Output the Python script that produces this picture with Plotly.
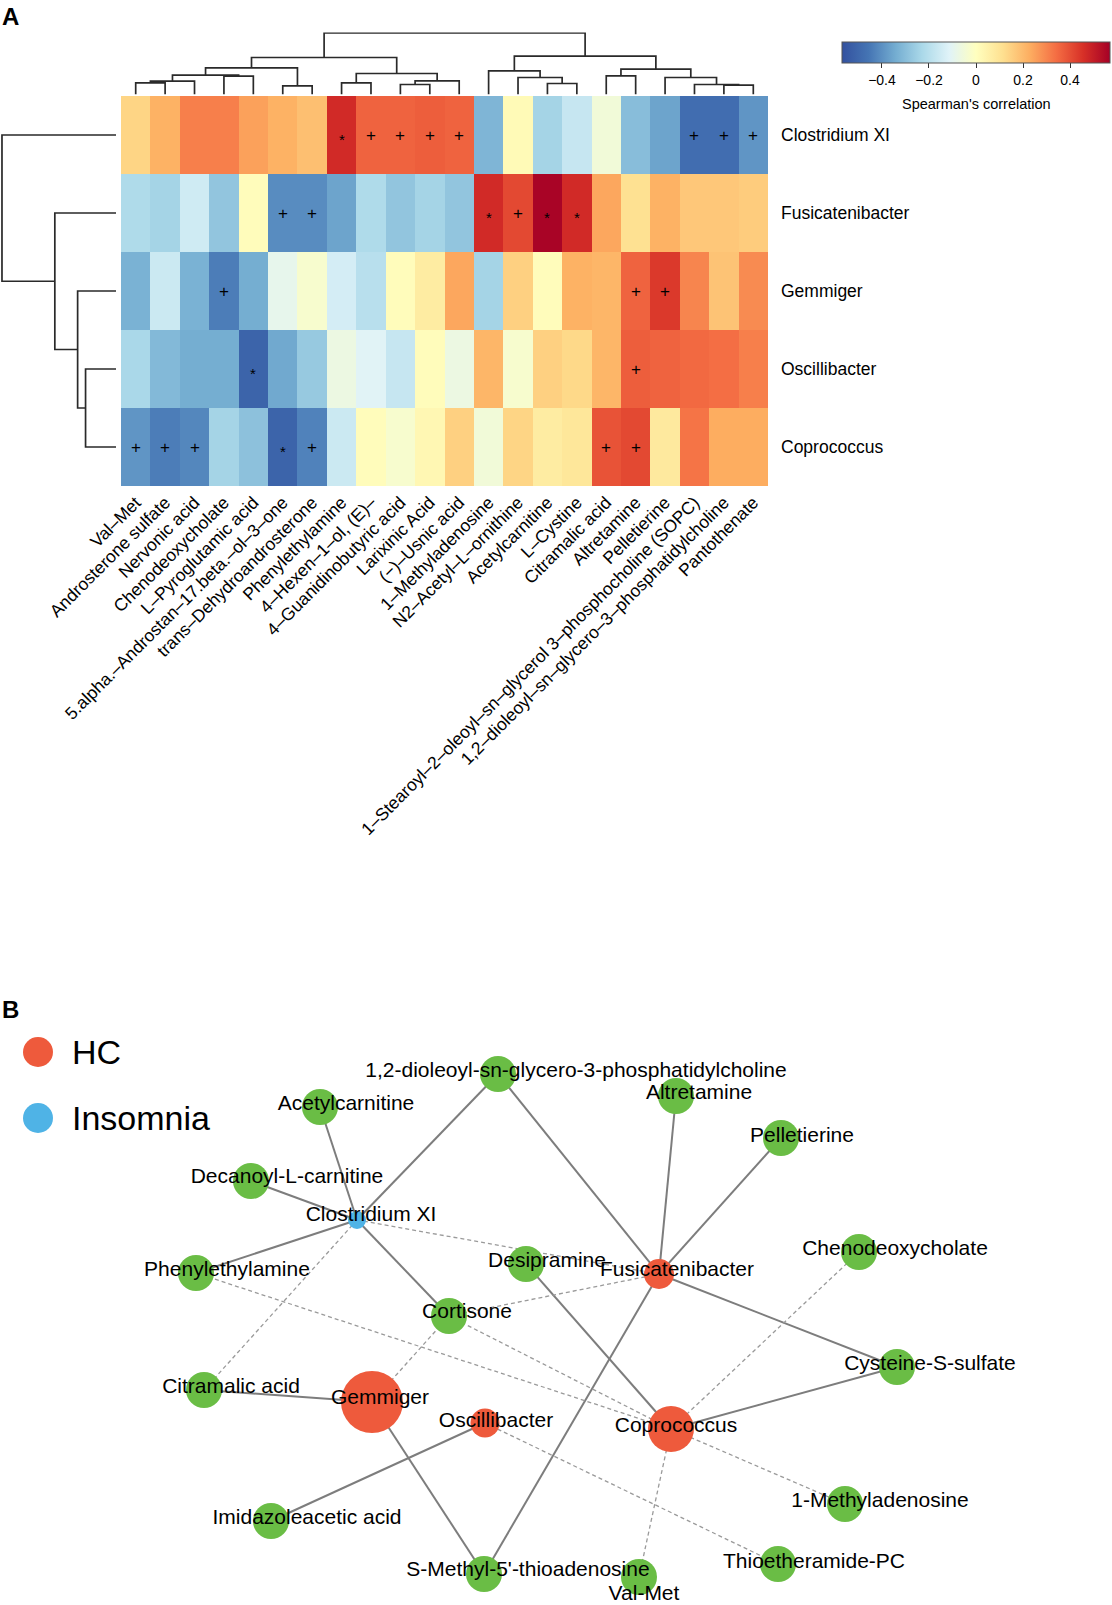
import plotly.graph_objects as go

W, H = 1112, 1605
FONT = "Liberation Sans, Arial, sans-serif"

# ---------------- Panel A data ----------------
metabolites = [
    "Val–Met", "Androsterone sulfate", "Nervonic acid", "Chenodeoxycholate",
    "L–Pyroglutamic acid", "5.alpha.–Androstan–17.beta.–ol–3–one",
    "trans–Dehydroandrosterone", "Phenylethylamine", "4–Hexen–1–ol, (E)–",
    "4–Guanidinobutyric acid", "Larixinic Acid", "(−)–Usnic acid",
    "1–Methyladenosine", "N2–Acetyl–L–ornithine", "Acetylcarnitine", "L–Cystine",
    "Citramalic acid", "Altretamine", "Pelletierine",
    "1–Stearoyl–2–oleoyl–sn–glycerol 3–phosphocholine (SOPC)",
    "1,2–dioleoyl–sn–glycero–3–phosphatidylcholine", "Pantothenate",
]
taxa = ["Clostridium XI", "Fusicatenibacter", "Gemmiger", "Oscillibacter", "Coprococcus"]

rho_clostridium = [0.14, 0.22, 0.31, 0.31, 0.25, 0.22, 0.19, 0.47, 0.36, 0.36, 0.37,
                   0.36, -0.32, 0.02, -0.24, -0.17, -0.05, -0.30, -0.36, -0.48, -0.48, -0.39]
rho_fusicatenibacter = [-0.22, -0.24, -0.15, -0.28, 0.01, -0.41, -0.41, -0.36, -0.22, -0.28, -0.24,
                        -0.28, 0.47, 0.41, 0.56, 0.47, 0.24, 0.11, 0.22, 0.17, 0.17, 0.16]
rho_gemmiger = [-0.33, -0.16, -0.33, -0.44, -0.34, -0.09, -0.03, -0.14, -0.20, 0.01, 0.07,
                0.24, -0.24, 0.15, 0.01, 0.22, 0.21, 0.36, 0.44, 0.30, 0.18, 0.29]
rho_oscillibacter = [-0.23, -0.31, -0.34, -0.34, -0.51, -0.35, -0.27, -0.07, -0.11, -0.17, 0.01,
                     -0.07, 0.21, -0.03, 0.15, 0.13, 0.21, 0.37, 0.36, 0.35, 0.34, 0.31]
rho_coprococcus = [-0.39, -0.44, -0.42, -0.24, -0.29, -0.51, -0.43, -0.16, 0.01, -0.03, 0.03,
                   0.15, -0.05, 0.14, 0.07, 0.09, 0.39, 0.41, 0.08, 0.33, 0.23, 0.23]

sig_clostridium = ["", "", "", "", "", "", "", "*", "+", "+", "+", "+", "", "", "", "", "", "", "", "+", "+", "+"]
sig_fusicatenibacter = ["", "", "", "", "", "+", "+", "", "", "", "", "", "*", "+", "*", "*", "", "", "", "", "", ""]
sig_gemmiger = ["", "", "", "+", "", "", "", "", "", "", "", "", "", "", "", "", "", "+", "+", "", "", ""]
sig_oscillibacter = ["", "", "", "", "*", "", "", "", "", "", "", "", "", "", "", "", "", "+", "", "", "", ""]
sig_coprococcus = ["+", "+", "+", "", "", "*", "+", "", "", "", "", "", "", "", "", "", "+", "+", "", "", "", ""]

# dendrograms: (left, right, height); leaves are display indices
col_tree = (
    ((((((0, 1, 11.7), 2, 13.3), (3, 4, 18.3), 19.3), (5, 6, 8.7), 26.7),
      ((7, 8, 11.7), ((9, 10, 10.0), 11, 13.7), 21.0), 37.0),
     ((12, (13, (14, 15, 11.0), 17.0), 23.7),
      ((16, 17, 18.7), (18, (19, (20, 21, 9.3), 10.0), 17.0), 25.3), 38.3),
     61.7)
)
row_tree = (0, (1, (2, (3, 4, 30.7), 38.7), 61.7), 115.0)

cbar_ticks = [-0.4, -0.2, 0, 0.2, 0.4]
cbar_title = "Spearman's correlation"
zlim = 0.57

# ---------------- Panel B data ----------------
node_names = [
    "Acetylcarnitine", "1,2-dioleoyl-sn-glycero-3-phosphatidylcholine", "Altretamine",
    "Pelletierine", "Decanoyl-L-carnitine", "Clostridium XI", "Chenodeoxycholate",
    "Phenylethylamine", "Desipramine", "Fusicatenibacter", "Cortisone",
    "Cysteine-S-sulfate", "Citramalic acid", "Gemmiger", "Oscillibacter", "Coprococcus",
    "1-Methyladenosine", "Imidazoleacetic acid", "Thioetheramide-PC",
    "S-Methyl-5'-thioadenosine", "Val-Met",
]
node_group = {
    "Clostridium XI": "Insomnia", "Fusicatenibacter": "HC", "Gemmiger": "HC",
    "Oscillibacter": "HC", "Coprococcus": "HC",
}
edges_positive = [
    ("Clostridium XI", "Acetylcarnitine"), ("Clostridium XI", "Decanoyl-L-carnitine"),
    ("Clostridium XI", "Phenylethylamine"),
    ("Clostridium XI", "1,2-dioleoyl-sn-glycero-3-phosphatidylcholine"),
    ("Clostridium XI", "Cortisone"),
    ("Fusicatenibacter", "1,2-dioleoyl-sn-glycero-3-phosphatidylcholine"),
    ("Fusicatenibacter", "Altretamine"), ("Fusicatenibacter", "Pelletierine"),
    ("Fusicatenibacter", "Cysteine-S-sulfate"), ("Fusicatenibacter", "S-Methyl-5'-thioadenosine"),
    ("Coprococcus", "Desipramine"), ("Coprococcus", "Cysteine-S-sulfate"),
    ("Gemmiger", "Citramalic acid"), ("Gemmiger", "S-Methyl-5'-thioadenosine"),
    ("Oscillibacter", "Imidazoleacetic acid"),
]
edges_negative = [
    ("Clostridium XI", "Fusicatenibacter"), ("Clostridium XI", "Citramalic acid"),
    ("Fusicatenibacter", "Cortisone"), ("Gemmiger", "Cortisone"), ("Coprococcus", "Cortisone"),
    ("Coprococcus", "Phenylethylamine"), ("Coprococcus", "Chenodeoxycholate"),
    ("Coprococcus", "1-Methyladenosine"), ("Coprococcus", "Val-Met"),
    ("Oscillibacter", "Thioetheramide-PC"),
]
legend_groups = ["HC", "Insomnia"]

# ---------------- layout / style (positions in network-layout units) ----------------
net_pos = {
    "Acetylcarnitine": (320, 1107), "1,2-dioleoyl-sn-glycero-3-phosphatidylcholine": (498, 1074),
    "Altretamine": (676, 1096), "Pelletierine": (781, 1138), "Decanoyl-L-carnitine": (251, 1181),
    "Clostridium XI": (357, 1220), "Chenodeoxycholate": (859, 1252), "Phenylethylamine": (196, 1273),
    "Desipramine": (526, 1264), "Fusicatenibacter": (659, 1274), "Cortisone": (449, 1316),
    "Cysteine-S-sulfate": (897, 1367), "Citramalic acid": (204, 1390), "Gemmiger": (372, 1402),
    "Oscillibacter": (485, 1423), "Coprococcus": (671, 1429), "1-Methyladenosine": (845, 1504),
    "Imidazoleacetic acid": (271, 1521), "Thioetheramide-PC": (778, 1564),
    "S-Methyl-5'-thioadenosine": (484, 1574), "Val-Met": (639, 1577),
}
label_off = {
    "Acetylcarnitine": (26, -2), "1,2-dioleoyl-sn-glycero-3-phosphatidylcholine": (78, -2),
    "Altretamine": (23, -2), "Pelletierine": (21, -1), "Decanoyl-L-carnitine": (36, -3),
    "Clostridium XI": (14, -4), "Chenodeoxycholate": (36, -2), "Phenylethylamine": (31, -2),
    "Desipramine": (21, -2), "Fusicatenibacter": (18, -3), "Cortisone": (18, -3),
    "Cysteine-S-sulfate": (33, -2), "Citramalic acid": (27, -2), "Gemmiger": (8, -3),
    "Oscillibacter": (11, -1), "Coprococcus": (5, -2), "1-Methyladenosine": (35, -2),
    "Imidazoleacetic acid": (36, -2), "Thioetheramide-PC": (36, -1),
    "S-Methyl-5'-thioadenosine": (44, -3), "Val-Met": (5, 18),
}
node_size = {"Clostridium XI": 18, "Fusicatenibacter": 30, "Gemmiger": 62,
             "Oscillibacter": 29, "Coprococcus": 46}
default_size = 36
group_color = {"HC": "#ee5a3c", "Insomnia": "#4fb3e6", "metabolite": "#6abd45"}
legend_pos = {"HC": (38, 1052), "Insomnia": (38, 1118)}

colorscale = [
    [0.0, "#33519f"], [0.1, "#4575b4"], [0.2, "#74add1"], [0.3, "#abd9e9"],
    [0.4, "#e0f3f8"], [0.5, "#ffffbf"], [0.6, "#fee090"], [0.7, "#fdae61"],
    [0.8, "#f46d43"], [0.9, "#d73027"], [1.0, "#a50026"],
]


def fx(px):
    return px / W


def fy(py):
    return 1 - py / H


def dendro(tree, segs_a, segs_h):
    """Return (position, height); append U-shaped links."""
    if isinstance(tree, int):
        return float(tree), 0.0
    left, right, h = tree
    xl, hl = dendro(left, segs_a, segs_h)
    xr, hr = dendro(right, segs_a, segs_h)
    segs_a += [xl, xl, xr, xr, None]
    segs_h += [hl, h, h, hr, None]
    return (xl + xr) / 2, h


z = [rho_clostridium, rho_fusicatenibacter, rho_gemmiger, rho_oscillibacter, rho_coprococcus]
sig = [sig_clostridium, sig_fusicatenibacter, sig_gemmiger, sig_oscillibacter, sig_coprococcus]
ncol, nrow = len(metabolites), len(taxa)

fig = go.Figure()

fig.add_trace(go.Heatmap(
    z=z, x=list(range(ncol)), y=list(range(nrow)), colorscale=colorscale,
    zmin=-zlim, zmax=zlim, xaxis="x", yaxis="y", hoverinfo="skip",
    colorbar=dict(
        orientation="h", lenmode="pixels", len=268, thickness=21,
        x=fx(976), xanchor="center", y=fy(42), yanchor="top", xpad=0, ypad=0,
        outlinewidth=1, outlinecolor="#555555",
        tickvals=cbar_ticks, ticktext=["−0.4", "−0.2", "0", "0.2", "0.4"],
        ticks="outside", ticklen=5, tickcolor="#333333",
        tickfont=dict(size=14, color="black", family=FONT),
    ),
))

# top dendrogram
ca, ch = [], []
dendro(col_tree, ca, ch)
fig.add_trace(go.Scatter(x=ca, y=ch, mode="lines", xaxis="x2", yaxis="y2",
                         line=dict(color="#2a2a2a", width=1.7), hoverinfo="skip"))
# left dendrogram
ra, rh = [], []
dendro(row_tree, ra, rh)
fig.add_trace(go.Scatter(x=rh, y=ra, mode="lines", xaxis="x3", yaxis="y3",
                         line=dict(color="#2a2a2a", width=1.7), hoverinfo="skip"))

annotations = []
for r in range(nrow):
    for c in range(ncol):
        s = sig[r][c]
        if s:
            annotations.append(dict(
                x=c, y=r, xref="x", yref="y", text=s, showarrow=False,
                font=dict(size=17 if s == "+" else 15, color="black", family=FONT),
                yshift=0 if s == "+" else -4))

annotations.append(dict(x=fx(976), y=fy(103.5), xref="paper", yref="paper", text=cbar_title,
                        showarrow=False, xanchor="center", yanchor="middle",
                        font=dict(size=14.5, color="black", family=FONT)))

# ---------------- Panel B ----------------
ex, ey = [], []
for a, b in edges_positive:
    ex += [net_pos[a][0], net_pos[b][0], None]
    ey += [net_pos[a][1], net_pos[b][1], None]
fig.add_trace(go.Scatter(x=ex, y=ey, mode="lines", xaxis="x4", yaxis="y4",
                         line=dict(color="#7d7d7d", width=2), hoverinfo="skip"))
nx_, ny_ = [], []
for a, b in edges_negative:
    nx_ += [net_pos[a][0], net_pos[b][0], None]
    ny_ += [net_pos[a][1], net_pos[b][1], None]
fig.add_trace(go.Scatter(x=nx_, y=ny_, mode="lines", xaxis="x4", yaxis="y4",
                         line=dict(color="#9a9a9a", width=1.3, dash="4px,3px"),
                         hoverinfo="skip"))

fig.add_trace(go.Scatter(
    x=[net_pos[n][0] for n in node_names], y=[net_pos[n][1] for n in node_names],
    mode="markers", xaxis="x4", yaxis="y4", hoverinfo="skip",
    marker=dict(size=[node_size.get(n, default_size) for n in node_names],
                color=[group_color[node_group.get(n, "metabolite")] for n in node_names],
                line=dict(width=0), opacity=1)))
fig.add_trace(go.Scatter(
    x=[net_pos[n][0] + label_off[n][0] for n in node_names],
    y=[net_pos[n][1] + label_off[n][1] for n in node_names],
    mode="text", text=node_names, textposition="middle center",
    textfont=dict(size=21, color="black", family=FONT),
    xaxis="x4", yaxis="y4", hoverinfo="skip"))

# legend
fig.add_trace(go.Scatter(
    x=[legend_pos[g][0] for g in legend_groups], y=[legend_pos[g][1] for g in legend_groups],
    mode="markers", xaxis="x4", yaxis="y4", hoverinfo="skip",
    marker=dict(size=30, color=[group_color[g] for g in legend_groups], line=dict(width=0))))
for g in legend_groups:
    annotations.append(dict(x=legend_pos[g][0] + 32, y=legend_pos[g][1], xref="x4", yref="y4",
                            text=g, showarrow=False, xanchor="left", yanchor="middle",
                            font=dict(size=34, color="black", family=FONT)))

annotations.append(dict(x=0, y=fy(1), xref="paper", yref="paper", text="<b>A</b>",
                        showarrow=False, xanchor="left", yanchor="top",
                        font=dict(size=24, color="black", family=FONT)))
annotations.append(dict(x=0, y=fy(994), xref="paper", yref="paper", text="<b>B</b>",
                        showarrow=False, xanchor="left", yanchor="top",
                        font=dict(size=24, color="black", family=FONT)))

hidden = dict(visible=False, showgrid=False, zeroline=False, fixedrange=True)
fig.update_layout(
    width=W, height=H, autosize=False,
    margin=dict(l=0, r=0, t=0, b=0, pad=0, autoexpand=False),
    paper_bgcolor="white", plot_bgcolor="rgba(0,0,0,0)",
    showlegend=False, font=dict(family=FONT, color="black"),
    xaxis=dict(domain=[fx(121), fx(768)], range=[-0.5, ncol - 0.5], anchor="y",
               tickmode="array", tickvals=list(range(ncol)), ticktext=metabolites,
               tickangle=-45, ticks="", showgrid=False, zeroline=False, showline=False,
               ticklabelstandoff=2,
               tickfont=dict(size=17.5, color="black", family=FONT)),
    yaxis=dict(domain=[fy(486), fy(96)], range=[nrow - 0.5, -0.5], anchor="x", side="right",
               tickmode="array", tickvals=list(range(nrow)), ticktext=taxa, ticks="",
               ticklabelstandoff=12, showgrid=False, zeroline=False, showline=False,
               tickfont=dict(size=17.5, color="black", family=FONT)),
    xaxis2=dict(domain=[fx(121), fx(768)], range=[-0.5, ncol - 0.5], anchor="y2", **hidden),
    yaxis2=dict(domain=[fy(94.5), fy(32.5)], range=[0, 62], anchor="x2", **hidden),
    xaxis3=dict(domain=[0, fx(116)], range=[117, 0], anchor="y3", **hidden),
    yaxis3=dict(domain=[fy(486), fy(96)], range=[nrow - 0.5, -0.5], anchor="x3", **hidden),
    xaxis4=dict(domain=[0, 1], range=[0, W], anchor="y4", **hidden),
    yaxis4=dict(domain=[0, fy(990)], range=[H, 990], anchor="x4", **hidden),
    annotations=annotations,
)

fig.write_html("out.html", config={"displayModeBar": False},
               post_script="document.body.style.margin='0';document.body.style.overflow='hidden';")
